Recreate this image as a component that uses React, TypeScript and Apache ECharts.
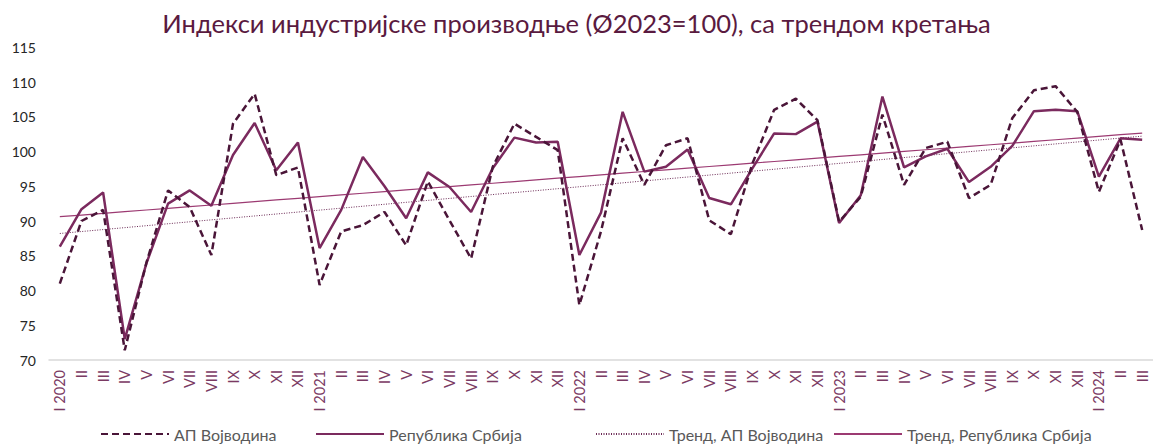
import React, { useEffect, useRef } from "react";
import * as echarts from "echarts";

const roman = ["I", "II", "III", "IV", "V", "VI", "VII", "VIII", "IX", "X", "XI", "XII"];
const years = [2020, 2021, 2022, 2023, 2024];
const categories: string[] = [];
years.forEach((y) => {
  const n = y === 2024 ? 3 : 12;
  for (let m = 0; m < n; m++) categories.push(m === 0 ? `I ${y}` : roman[m]);
});

const vojvodina = [
  81.0, 90.0, 91.6, 71.4, 84.0, 94.4, 92.0, 85.1, 104.0, 108.3, 96.6, 97.7,
  80.8, 88.5, 89.4, 91.3, 86.5, 95.7, 90.1, 84.6, 97.8, 104.0, 102.1, 100.2,
  77.9, 88.5, 101.9, 95.2, 100.9, 101.9, 90.1, 88.1, 98.3, 106.0, 107.6, 104.5,
  89.9, 93.5, 105.3, 95.2, 100.5, 101.4, 93.3, 95.2, 104.8, 108.8, 109.4, 105.7,
  94.2, 101.7, 88.7,
];

const srbija = [
  86.3, 91.7, 94.1, 73.0, 83.9, 92.5, 94.4, 92.2, 99.5, 104.1, 97.3, 101.3,
  86.1, 91.6, 99.2, 95.0, 90.4, 97.0, 94.9, 91.3, 97.6, 102.0, 101.3, 101.4,
  85.1, 91.2, 105.7, 97.1, 97.8, 100.3, 93.3, 92.4, 97.6, 102.6, 102.5, 104.3,
  89.7, 93.7, 107.9, 97.7, 99.3, 100.4, 95.6, 97.8, 100.8, 105.8, 106.0, 105.8,
  96.4, 101.9, 101.7,
];

const seriesNames = ["АП Војводина", "Република Србија", "Тренд, АП Војводина", "Тренд, Република Србија"];

const yTicks = { min: 70, max: 115, interval: 5 };

function linearTrend(vals: number[]): number[] {
  const n = vals.length;
  let sx = 0, sy = 0, sxx = 0, sxy = 0;
  vals.forEach((v, i) => {
    sx += i; sy += v; sxx += i * i; sxy += i * v;
  });
  const b = (n * sxy - sx * sy) / (n * sxx - sx * sx);
  const a = (sy - b * sx) / n;
  return vals.map((_, i) => +(a + b * i).toFixed(3));
}

const FONT = "Lato, 'Noto Sans', sans-serif";
const legendLefts = [100, 315, 595, 833];

export default function App() {
  const ref = useRef<HTMLDivElement>(null);
  useEffect(() => {
    document.body.style.margin = "0";
    const chart = echarts.init(ref.current!, undefined, { renderer: "svg" });
    chart.setOption({
      animation: false,
      backgroundColor: "#ffffff",
      textStyle: { fontFamily: FONT },
      title: {
        text: "Индекси индустријске производње (Ø2023=100), са трендом кретања",
        left: "center",
        top: 5,
        textStyle: { fontFamily: FONT, fontSize: 25.5, fontWeight: "normal", color: "#5a1a40" },
      },
      legend: seriesNames.map((name, i) => ({
        data: [name],
        left: legendLefts[i],
        top: 426,
        padding: 0,
        itemWidth: 68,
        itemHeight: 14,
        itemGap: 7,
        itemStyle: { opacity: 0 },
        textStyle: { fontFamily: FONT, fontSize: 16, color: "#595959" },
      })),
      grid: { left: 49, right: -4.6, top: 47.25, bottom: 84, containLabel: false },
      xAxis: {
        type: "category",
        data: categories,
        boundaryGap: true,
        axisLine: { lineStyle: { color: "#d9d9d9", width: 1.5 } },
        axisTick: { show: false },
        axisLabel: {
          interval: 0,
          rotate: 90,
          margin: 10,
          fontSize: 14.5,
          fontFamily: FONT,
          color: "#7b3a63",
        },
      },
      yAxis: {
        type: "value",
        min: yTicks.min,
        max: yTicks.max,
        interval: yTicks.interval,
        splitLine: { show: false },
        axisLine: { show: false },
        axisTick: { show: false },
        axisLabel: { fontSize: 14, fontFamily: FONT, color: "#262626", margin: 13 },
      },
      series: [
        {
          name: seriesNames[0],
          type: "line",
          data: vojvodina,
          symbol: "none",
          lineStyle: { color: "#4a1538", width: 2.5, type: [7, 4] },
          itemStyle: { color: "#4a1538" },
          z: 4,
        },
        {
          name: seriesNames[1],
          type: "line",
          data: srbija,
          symbol: "none",
          lineStyle: { color: "#7b2a5e", width: 2.5 },
          itemStyle: { color: "#7b2a5e" },
          z: 3,
        },
        {
          name: seriesNames[2],
          type: "line",
          data: linearTrend(vojvodina),
          symbol: "none",
          lineStyle: { color: "#6b2a55", width: 1, type: [1, 1.5] },
          itemStyle: { color: "#6b2a55" },
          z: 2,
        },
        {
          name: seriesNames[3],
          type: "line",
          data: linearTrend(srbija),
          symbol: "none",
          lineStyle: { color: "#9c3a72", width: 1.2 },
          itemStyle: { color: "#9c3a72" },
          z: 2,
        },
      ],
    });
    return () => chart.dispose();
  }, []);
  return <div ref={ref} style={{ position: "absolute", left: 0, top: 0, width: 1153, height: 444 }} />;
}
